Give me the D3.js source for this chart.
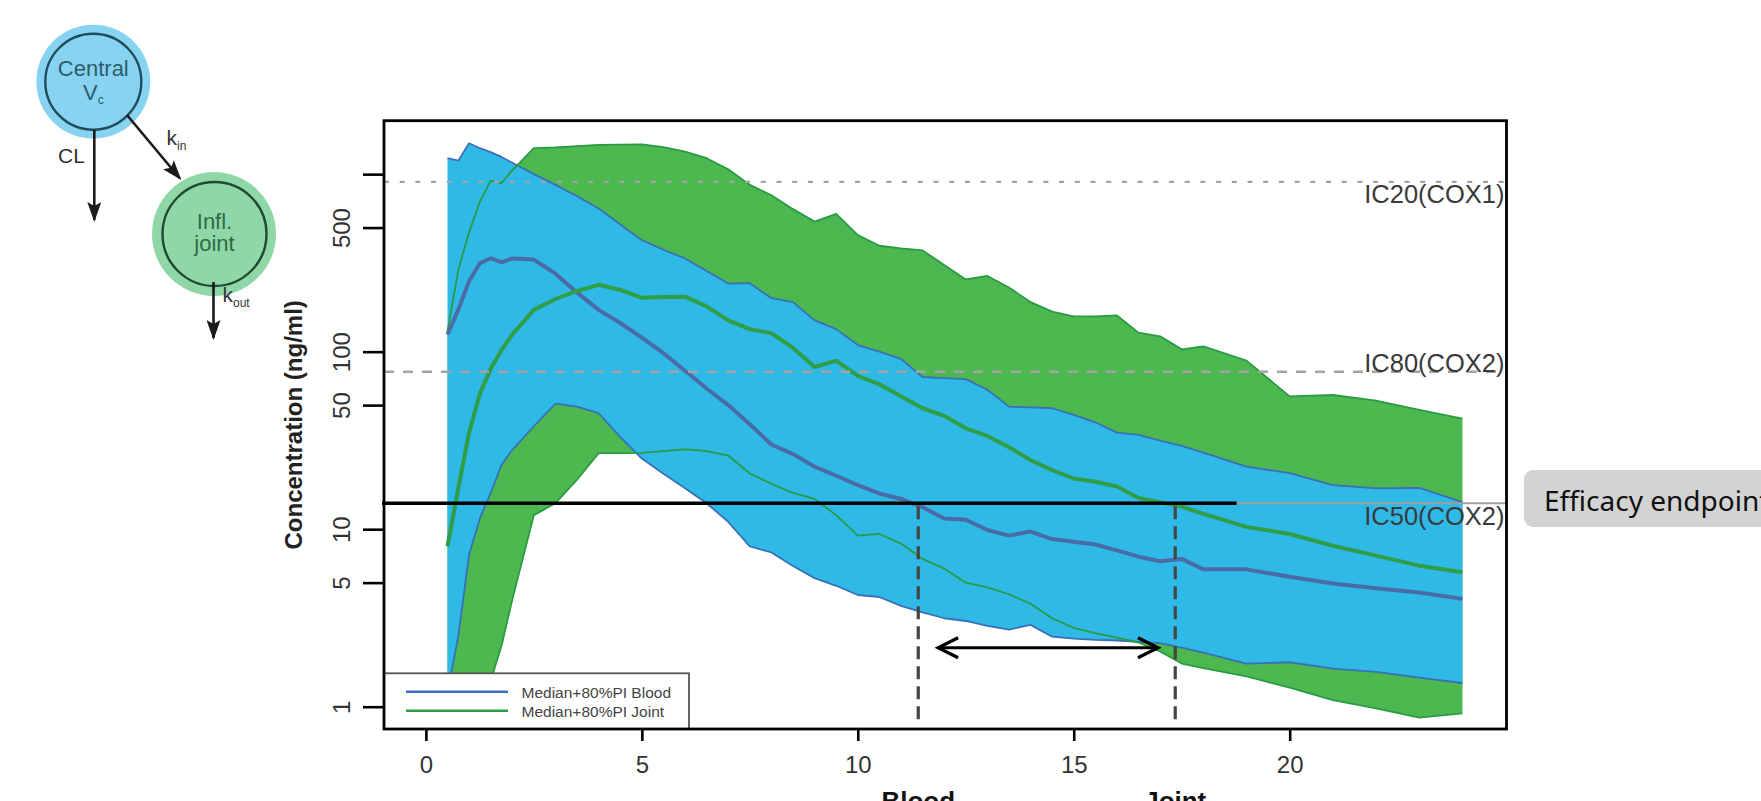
<!DOCTYPE html>
<html>
<head>
<meta charset="utf-8">
<script src="https://cdn.jsdelivr.net/npm/d3@7"></script>
<style>
  body { margin: 0; background: #fff; }
  svg text { font-family: "Liberation Sans", Arial, sans-serif; }
</style>
</head>
<body>
<div id="graphicContainer"></div>
<script>

// time after dose (h)
var hours = [0.5, 0.75, 1, 1.25, 1.5, 1.75, 2, 2.5, 3, 3.5, 4, 4.5, 5, 5.5, 6, 6.5, 7, 7.5, 8, 8.5,
    9, 9.5, 10, 10.5, 11, 11.5, 12, 12.5, 13, 13.5, 14, 14.5, 15, 15.5, 16, 16.5, 17, 17.5, 18,
    19, 20, 21, 22, 23, 24]

// blood: 10th percentile, median, 90th percentile (ng/ml)
var bloodLo = [1.2, 2.5, 7.2, 11.5, 16, 23, 28, 38, 51, 49, 45, 33, 25, 20.5, 17, 14, 11, 8.0, 7.4, 6.2,
    5.3, 4.8, 4.26, 4.15, 3.7, 3.4, 3.15, 3.04, 2.85, 2.72, 2.89, 2.48, 2.42, 2.38, 2.36, 2.32, 2.28, 2.15, 2.02,
    1.75, 1.78, 1.64, 1.57, 1.46, 1.36]
var bloodMed = [125, 172, 250, 315, 336, 318, 335, 330, 275, 215, 172, 145, 120, 98, 78, 62, 50, 39, 30, 26.5,
    22.5, 20, 17.7, 15.9, 14.8, 13.3, 11.5, 11.3, 9.9, 9.2, 9.7, 8.8, 8.5, 8.2, 7.6, 7.0, 6.6, 6.8, 5.94,
    5.94, 5.4, 4.95, 4.65, 4.4, 4.05]
var bloodHi = [1229, 1191, 1493, 1400, 1330, 1250, 1160, 1000, 870, 750, 640, 520, 425, 375, 335, 285, 242, 243, 200, 190,
    150, 134, 109, 100, 91, 72, 71, 70, 61, 49, 48.5, 48, 44, 40, 35, 34, 31.5, 29.5, 27,
    22.5, 20.7, 17.7, 17, 17.1, 14.2]

// inflamed joint: 10th percentile, median, 90th percentile (ng/ml)
var jointLo = [0.25, 0.45, 0.7, 1.0, 1.4, 2.2, 4.0, 12, 14, 19, 26.8, 26.8, 26.9, 27.5, 28.2, 27.5, 26, 20.6, 18, 16,
    14.8, 12, 9.2, 9.4, 8.3, 6.8, 6.0, 5.0, 4.7, 4.3, 3.8, 3.15, 2.78, 2.6, 2.45, 2.3, 2.05, 1.75, 1.65,
    1.48, 1.28, 1.09, 0.98, 0.867, 0.918]
var jointMed = [8.0, 17, 35, 58, 80, 102, 125, 172, 198, 220, 238, 223, 201, 203, 204, 180, 150, 134, 127, 105,
    82, 89, 73, 65.5, 56, 48, 43.5, 37, 33.5, 29, 24.5, 21.5, 19.3, 18.5, 17.4, 15, 14.2, 13.4, 12.2,
    10.3, 9.4, 8.07, 7.1, 6.23, 5.72]
var jointHi = [130, 288, 470, 700, 920, 890, 1050, 1400, 1415, 1440, 1462, 1468, 1470, 1420, 1340, 1230, 1065, 870, 760, 635,
    540, 597, 454, 395, 382, 372, 308, 255, 267, 230, 190, 168, 158, 158, 160, 128, 122, 103, 107,
    89, 56, 57, 53, 47, 42]

var xTicks = [0, 5, 10, 15, 20]
var yTicks = [1, 5, 10, 50, 100, 500, 1000]
var yTickLabels = ["1", "5", "10", "50", "100", "500", ""]

var icNames = ["IC20(COX1)", "IC80(COX2)", "IC50(COX2)"]
var icValues = [905, 77, 14]

var crossTimes = [11.4, 17.35]
var crossNames = ["Blood", "Joint"]
var arrowSpan = [11.86, 16.95]
var arrowLevel = 2.15

var legendNames = ["Median+80%PI Blood", "Median+80%PI Joint"]


var target = "#graphicContainer";

var width = 1761, height = 801;
var plot = {left: 384, right: 1506.5, top: 120.7, bottom: 729};

var blueFill = "#2fb9e7", blueLine = "#3b6fb6", blueMed = "#4a6ca6";
var greenFill = "#4cb84f", greenLine = "#2a9b44", greenMed = "#2f9e46";

var svg = d3.select(target).append("svg")
    .attr("width", width)
    .attr("height", height)
    .style("display", "block");

svg.append("rect").attr("width", width).attr("height", height).attr("fill", "white");

var defs = svg.append("defs");

defs.append("clipPath").attr("id", "plotClip")
    .append("rect")
    .attr("x", plot.left).attr("y", plot.top)
    .attr("width", plot.right - plot.left).attr("height", plot.bottom - plot.top);

defs.append("marker")
    .attr("id", "headSolid")
    .attr("viewBox", "0 -7 20 14")
    .attr("refX", 18).attr("refY", 0)
    .attr("markerWidth", 20).attr("markerHeight", 14)
    .attr("markerUnits", "userSpaceOnUse")
    .attr("orient", "auto")
    .append("path").attr("d", "M0,-7L20,0L0,7L4,0Z").attr("fill", "#1a1a1a");

defs.append("marker")
    .attr("id", "headOpen")
    .attr("viewBox", "-2 -12 26 24")
    .attr("refX", 20).attr("refY", 0)
    .attr("markerWidth", 26).attr("markerHeight", 24)
    .attr("markerUnits", "userSpaceOnUse")
    .attr("orient", "auto-start-reverse")
    .append("path").attr("d", "M0,-10L20,0L0,10")
    .attr("fill", "none").attr("stroke", "black").attr("stroke-width", 3.2);

var x = d3.scaleLinear().domain([-0.97, 25.02]).range([plot.left, plot.right]);
var y = d3.scaleLog().domain([0.749, 2000]).range([plot.bottom, plot.top]);

// ---- compartment diagram
var diag = svg.append("g");

diag.append("circle").attr("cx", 93.3).attr("cy", 81.7).attr("r", 57).attr("fill", "#88d3f1");
diag.append("circle").attr("cx", 93.3).attr("cy", 81.7).attr("r", 48)
    .attr("fill", "none").attr("stroke", "#1f4d5b").attr("stroke-width", 2.4);
diag.append("text").attr("x", 93.3).attr("y", 76).attr("text-anchor", "middle")
    .attr("font-size", 22).attr("fill", "#2b5d6c").text("Central");
var vc = diag.append("text").attr("x", 93.3).attr("y", 100).attr("text-anchor", "middle")
    .attr("font-size", 22).attr("fill", "#2b5d6c");
vc.append("tspan").text("V");
vc.append("tspan").attr("font-size", 12).attr("dy", 4).text("c");

diag.append("circle").attr("cx", 214).attr("cy", 234).attr("r", 62).attr("fill", "#8fd7a7");
diag.append("circle").attr("cx", 214.5).attr("cy", 234).attr("r", 52)
    .attr("fill", "none").attr("stroke", "#1f4a33").attr("stroke-width", 2.4);
diag.append("text").attr("x", 214.5).attr("y", 228.5).attr("text-anchor", "middle")
    .attr("font-size", 22).attr("fill", "#2e6b46").text("Infl.");
diag.append("text").attr("x", 214.5).attr("y", 250.5).attr("text-anchor", "middle")
    .attr("font-size", 22).attr("fill", "#2e6b46").text("joint");

diag.append("line").attr("x1", 94.3).attr("y1", 130).attr("x2", 94.3).attr("y2", 220)
    .attr("stroke", "#1a1a1a").attr("stroke-width", 2.6).attr("marker-end", "url(#headSolid)");
diag.append("line").attr("x1", 127).attr("y1", 115).attr("x2", 180).attr("y2", 178.5)
    .attr("stroke", "#1a1a1a").attr("stroke-width", 2.6).attr("marker-end", "url(#headSolid)");
diag.append("line").attr("x1", 213.5).attr("y1", 282).attr("x2", 213.5).attr("y2", 338)
    .attr("stroke", "#1a1a1a").attr("stroke-width", 2.6).attr("marker-end", "url(#headSolid)");

diag.append("text").attr("x", 58).attr("y", 162.7).attr("font-size", 21).attr("fill", "#333").text("CL");
var kin = diag.append("text").attr("x", 166.5).attr("y", 145).attr("font-size", 21).attr("fill", "#333");
kin.append("tspan").text("k");
kin.append("tspan").attr("font-size", 12).attr("dy", 5).text("in");
var kout = diag.append("text").attr("x", 222.5).attr("y", 301.5).attr("font-size", 21).attr("fill", "#333");
kout.append("tspan").text("k");
kout.append("tspan").attr("font-size", 12).attr("dy", 5).text("out");

// ---- bands and lines
var features = svg.append("g").attr("clip-path", "url(#plotClip)");

var band = function(lo, hi) {
    return d3.area()
        .x((d, i) => x(hours[i]))
        .y0((d, i) => y(lo[i]))
        .y1((d, i) => y(hi[i]))(hours)
}
var line = d3.line().x((d, i) => x(hours[i])).y(d => y(d));

features.append("path").attr("d", band(jointLo, jointHi)).attr("fill", greenFill);
features.append("path").attr("d", band(bloodLo, bloodHi)).attr("fill", blueFill);

[bloodLo, bloodHi].forEach(function(s) {
    features.append("path").attr("d", line(s)).attr("fill", "none")
        .attr("stroke", blueLine).attr("stroke-width", 1.8).attr("stroke-linejoin", "round");
});
[jointLo, jointHi].forEach(function(s) {
    features.append("path").attr("d", line(s)).attr("fill", "none")
        .attr("stroke", greenLine).attr("stroke-width", 1.8).attr("stroke-linejoin", "round");
});
features.append("path").attr("d", line(bloodMed)).attr("fill", "none")
    .attr("stroke", blueMed).attr("stroke-width", 4).attr("stroke-linejoin", "round");
features.append("path").attr("d", line(jointMed)).attr("fill", "none")
    .attr("stroke", greenMed).attr("stroke-width", 4).attr("stroke-linejoin", "round");

// ---- inhibitory concentration reference lines
var icDash = ["5,10.7", "10,9", null];
var icLabelOffset = [21.6, 0, 21.7];

icValues.forEach(function(v, i) {
    if (i < 2) {
        svg.append("line")
            .attr("x1", plot.left).attr("x2", plot.right)
            .attr("y1", y(v)).attr("y2", y(v))
            .attr("stroke", "#a3a3a3").attr("stroke-width", 2.4)
            .attr("stroke-dasharray", icDash[i]);
    } else {
        svg.append("line")
            .attr("x1", x(18.77)).attr("x2", plot.right)
            .attr("y1", y(v)).attr("y2", y(v))
            .attr("stroke", "#a0a0a0").attr("stroke-width", 2.2);
        svg.append("line")
            .attr("x1", plot.left - 2).attr("x2", x(18.77))
            .attr("y1", y(v)).attr("y2", y(v))
            .attr("stroke", "black").attr("stroke-width", 3.4);
    }
    svg.append("text")
        .attr("x", plot.right - 2)
        .attr("y", y(v) + icLabelOffset[i])
        .attr("text-anchor", "end")
        .attr("font-size", 25.5)
        .attr("fill", "#3a3a3a")
        .text(icNames[i]);
});

// time above IC50 in blood / joint
crossTimes.forEach(function(t, i) {
    svg.append("line")
        .attr("x1", x(t)).attr("x2", x(t))
        .attr("y1", y(icValues[2]) + 3).attr("y2", plot.bottom - 6)
        .attr("stroke", "#444").attr("stroke-width", 3.2)
        .attr("stroke-dasharray", "13,7");
    svg.append("text")
        .attr("x", x(t)).attr("y", 810)
        .attr("text-anchor", "middle")
        .attr("font-size", 26).attr("font-weight", "bold").attr("fill", "#111")
        .text(crossNames[i]);
});

svg.append("line")
    .attr("x1", x(arrowSpan[0])).attr("x2", x(arrowSpan[1]))
    .attr("y1", y(arrowLevel)).attr("y2", y(arrowLevel))
    .attr("stroke", "black").attr("stroke-width", 3)
    .attr("marker-start", "url(#headOpen)")
    .attr("marker-end", "url(#headOpen)");

// ---- legend
var legend = svg.append("g");
legend.append("rect")
    .attr("x", plot.left).attr("y", 673.3)
    .attr("width", 305).attr("height", plot.bottom - 673.3)
    .attr("fill", "white").attr("stroke", "#555").attr("stroke-width", 1.8);
[blueLine, greenMed].forEach(function(c, i) {
    var ly = 691.7 + i * 19;
    legend.append("line").attr("x1", 406).attr("x2", 508).attr("y1", ly).attr("y2", ly)
        .attr("stroke", c).attr("stroke-width", 2.6);
    legend.append("text").attr("x", 521.5).attr("y", ly + 6.3)
        .attr("font-size", 15.5).attr("fill", "#444").text(legendNames[i]);
});

// ---- box and axes
svg.append("rect")
    .attr("x", plot.left).attr("y", plot.top)
    .attr("width", plot.right - plot.left).attr("height", plot.bottom - plot.top)
    .attr("fill", "none").attr("stroke", "black").attr("stroke-width", 2.8);

var xAxis = svg.append("g")
    .attr("transform", "translate(0," + plot.bottom + ")")
    .call(d3.axisBottom(x).tickValues(xTicks).tickSize(12).tickFormat(d3.format("d")));
xAxis.select(".domain").remove();
xAxis.selectAll("line").attr("stroke", "black").attr("stroke-width", 2.6);
xAxis.selectAll("text")
    .attr("y", 43.5).attr("dy", 0)
    .attr("font-size", 24).attr("fill", "#333")
    .style("font-family", "'Liberation Sans', Arial, sans-serif");

var yAxis = svg.append("g")
    .attr("transform", "translate(" + plot.left + ",0)")
    .call(d3.axisLeft(y).tickValues(yTicks).tickSize(21).tickFormat((d, i) => yTickLabels[i]));
yAxis.select(".domain").remove();
yAxis.selectAll("line").attr("stroke", "black").attr("stroke-width", 2.6);
yAxis.selectAll("text")
    .attr("transform", "rotate(-90)")
    .attr("x", 0).attr("y", -34).attr("dy", 0)
    .attr("text-anchor", "middle")
    .attr("font-size", 24).attr("fill", "#333")
    .style("font-family", "'Liberation Sans', Arial, sans-serif");

svg.append("text")
    .attr("transform", "translate(302," + ((plot.top + plot.bottom) / 2) + ") rotate(-90)")
    .attr("text-anchor", "middle")
    .attr("font-size", 24).attr("font-weight", "bold").attr("fill", "#222")
    .text("Concentration (ng/ml)");

// ---- efficacy endpoint call-out
svg.append("rect")
    .attr("x", 1524).attr("y", 470).attr("width", 300).attr("height", 57)
    .attr("rx", 9).attr("fill", "#d3d3d3");
svg.append("text")
    .attr("x", 1544).attr("y", 510.5)
    .attr("font-size", 28).attr("fill", "#111")
    .style("font-family", "'Noto Sans', 'Open Sans', sans-serif")
    .text("Efficacy endpoint");

</script>
</body>
</html>
